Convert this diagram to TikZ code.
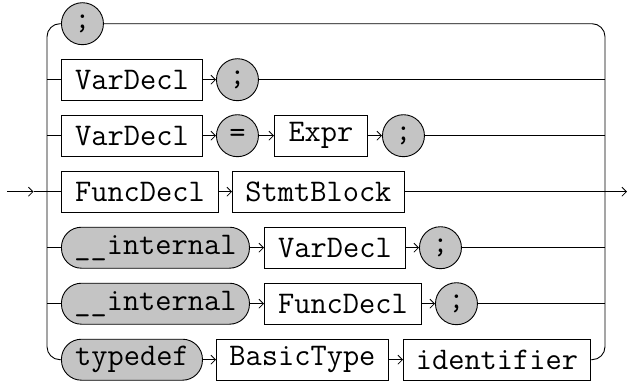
\documentclass[tikz,border=0pt]{standalone}
\usepackage{fontspec}
\usetikzlibrary{arrows.meta}
\definecolor{termfill}{RGB}{196,196,196}
\tikzset{
  x=1pt, y=-1pt,
  rail/.style={line width=0.9pt, draw=black},
  arr/.style={rail, -{Straight Barb[length=4.5pt,width=9pt,line width=0.8pt]}},
  elem/.style={rail, anchor=west, minimum height=41pt, inner xsep=0pt, inner ysep=0pt,
               font=\ttfamily\fontsize{31.5}{35}\selectfont},
  nonterm/.style={elem, rectangle, fill=white, minimum width=#1},
  kw/.style={elem, rectangle, rounded corners=20pt, fill=termfill, minimum width=#1},
  punct/.style={elem, circle, minimum size=42pt, inner sep=0pt, fill=termfill},
}
\begin{document}
\begin{tikzpicture}
\useasboundingbox (0,0) rectangle (628,383);

% row y positions
\def\ya{23.7}\def\yb{79.7}\def\yc{135.7}\def\yd{191.7}
\def\ye{247.7}\def\yf{303.7}\def\yg{359.7}

% alternatives
\node[punct]        (s1)  at (61,\ya) {;};

\node[nonterm=141]  (vd1) at (61,\yb) {VarDecl};
\node[punct]        (s2)  at (216,\yb) {;};

\node[nonterm=141]  (vd2) at (61,\yc) {VarDecl};
\node[punct]        (eq)  at (216,\yc) {=};
\node[nonterm=93]   (ex)  at (274,\yc) {Expr};
\node[punct]        (s3)  at (382,\yc) {;};

\node[nonterm=157]  (fd1) at (61,\yd) {FuncDecl};
\node[nonterm=172]  (sb)  at (232,\yd) {StmtBlock};

\node[kw=188]       (in1) at (61,\ye) {\_\_internal};
\node[nonterm=141]  (vd3) at (264,\ye) {VarDecl};
\node[punct]        (s5)  at (419,\ye) {;};

\node[kw=188]       (in2) at (61,\yf) {\_\_internal};
\node[nonterm=157]  (fd2) at (264,\yf) {FuncDecl};
\node[punct]        (s6)  at (435,\yf) {;};

\node[kw=141]       (td)  at (61,\yg) {typedef};
\node[nonterm=172]  (bt)  at (216,\yg) {BasicType};
\node[nonterm=187]  (id)  at (403,\yg) {identifier};

% rail coordinates
\coordinate (start) at (7,\yd);
\coordinate (tipin) at (33.5,\yd);
\coordinate (tipout) at (627,\yd);
\coordinate (L) at (47,\yd);
\coordinate (R) at (605,\yd);
\coordinate (Lb) at (47,\yb);
\coordinate (Lc) at (47,\yc);
\coordinate (Le) at (47,\ye);
\coordinate (Lf) at (47,\yf);
\coordinate (Rb) at (605,\yb);
\coordinate (Rc) at (605,\yc);
\coordinate (Re) at (605,\ye);
\coordinate (Rf) at (605,\yf);

% entry and exit
\draw[arr] (start) -- (tipin);
\draw[rail] (tipin) -- (fd1.west);
\draw[arr] (sb.east) -- (tipout);

% left and right rails
\draw[rail, rounded corners=13pt] (s1.west) -| (L) |- (td.west);
\draw[rail, rounded corners=13pt] (s1.east) -| (R) |- (id.east);

% branches off the left rail
\draw[rail] (Lb) -- (vd1.west);
\draw[rail] (Lc) -- (vd2.west);
\draw[rail] (Le) -- (in1.west);
\draw[rail] (Lf) -- (in2.west);

% sequences within each alternative
\draw[arr] (vd1.east) -- (s2.west);
\draw[arr] (vd2.east) -- (eq.west);
\draw[arr] (eq.east) -- (ex.west);
\draw[arr] (ex.east) -- (s3.west);
\draw[arr] (fd1.east) -- (sb.west);
\draw[arr] (in1.east) -- (vd3.west);
\draw[arr] (vd3.east) -- (s5.west);
\draw[arr] (in2.east) -- (fd2.west);
\draw[arr] (fd2.east) -- (s6.west);
\draw[arr] (td.east) -- (bt.west);
\draw[arr] (bt.east) -- (id.west);

% joins into the right rail
\draw[rail] (s2.east) -- (Rb);
\draw[rail] (s3.east) -- (Rc);
\draw[rail] (s5.east) -- (Re);
\draw[rail] (s6.east) -- (Rf);
\end{tikzpicture}
\end{document}
